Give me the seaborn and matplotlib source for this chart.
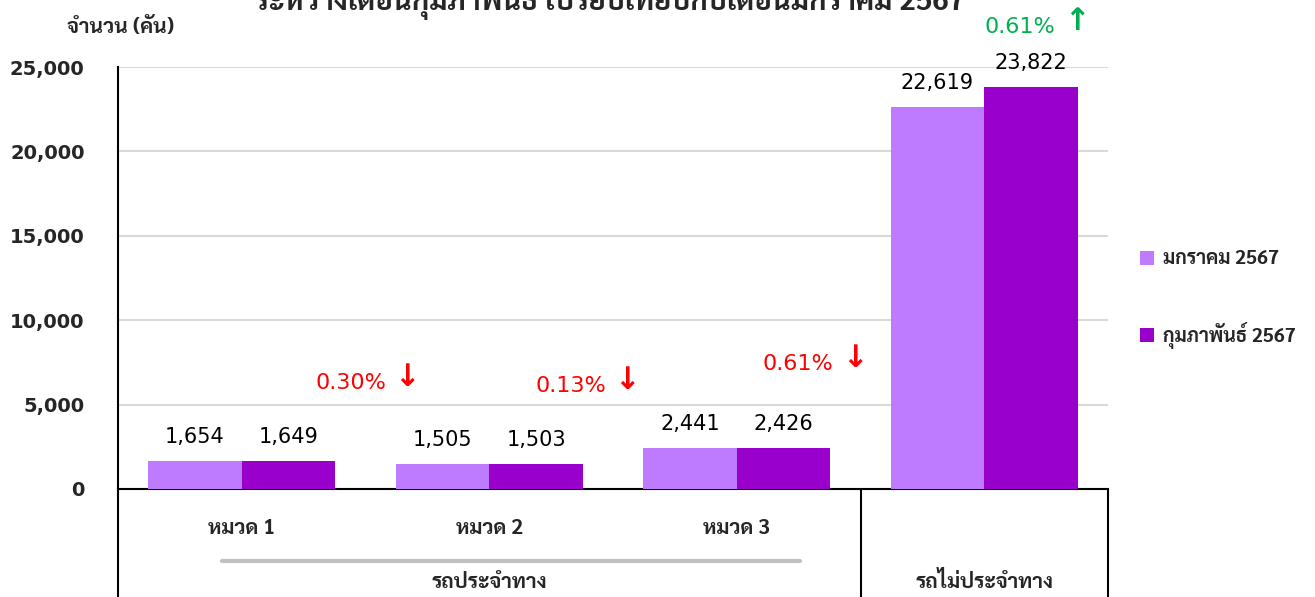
import matplotlib
matplotlib.use('Agg')
import matplotlib.pyplot as plt
import pandas as pd
import seaborn as sns
from matplotlib.patches import Patch

# data
categories = ['หมวด 1', 'หมวด 2', 'หมวด 3', 'ไม่ประจำทาง']
tick_labels = ['หมวด 1', 'หมวด 2', 'หมวด 3', '']
jan = [1654, 1505, 2441, 22619]
feb = [1649, 1503, 2426, 23822]
series = ['มกราคม 2567', 'กุมภาพันธ์ 2567']
colors = ['#BF7BFF', '#9900CC']
pct_labels = ['0.30%', '0.13%', '0.61%', '0.61%']
pct_up = [False, False, False, True]
group_labels = ['รถประจำทาง', 'รถไม่ประจำทาง']
title = 'ระหว่างเดือนกุมภาพันธ์ เปรียบเทียบกับเดือนมกราคม 2567'
ylabel = 'จำนวน (คัน)'

df = pd.DataFrame({
    'cat': categories * 2,
    'value': jan + feb,
    'month': [series[0]] * 4 + [series[1]] * 4,
})

sns.set_style('white')
plt.rcParams['font.family'] = ['DejaVu Sans', 'Sarabun']
thai = ['Sarabun', 'DejaVu Sans']

W, H = 1315, 597
fig = plt.figure(figsize=(W / 100, H / 100), dpi=100)
ax = fig.add_axes([118 / W, 1 - 489 / H, 990 / W, 422 / H])

sns.barplot(data=df, x='cat', y='value', hue='month', palette=colors,
            width=0.756, gap=0, saturation=1, linewidth=0, ax=ax,
            legend=False, zorder=3)

ax.set_ylim(0, 25000)
ax.set_xlim(-0.5, 3.5)
ax.set_yticks(range(0, 25001, 5000))
ax.set_yticklabels([f'{v:,}' for v in range(0, 25001, 5000)],
                   fontsize=14, fontweight='bold')
ax.set_xticks(range(4))
ax.set_xticklabels(tick_labels, fontsize=15, fontweight='bold', family=thai)
ax.tick_params(axis='y', length=0, pad=24)
ax.tick_params(axis='x', length=0, pad=21)
ax.set_xlabel('')
ax.set_ylabel('')
ax.grid(axis='y', color='#d9d9d9', lw=1.5, zorder=0)
for s in ['top', 'right']:
    ax.spines[s].set_visible(False)
for s in ['left', 'bottom']:
    ax.spines[s].set_color('black')
    ax.spines[s].set_linewidth(1.5)

# value labels
for cont in ax.containers:
    ax.bar_label(cont, labels=[f'{v:,.0f}' for v in cont.datavalues],
                 padding=10, fontsize=15, color='black')

# percent change notes
pct_pos = [(0.296, 6280), (1.185, 6100), (2.106, 7405), (3.003, 27370)]
for (x, y), t, up in zip(pct_pos, pct_labels, pct_up):
    c = '#00B050' if up else '#FF0000'
    ax.text(x, y, t, color=c, fontsize=16, va='center', ha='left', clip_on=False)
    ax.text(x + 0.37, y + 300, '↑' if up else '↓', color=c, fontsize=22,
            fontweight='bold', va='center', ha='center', clip_on=False)

# category frame below the axis
tr = ax.get_xaxis_transform()
bot = (489 - H) / 422
for x in [-0.5, 2.5, 3.5]:
    ax.plot([x, x], [0, bot], transform=tr, color='black', lw=1.5, clip_on=False)
ax.plot([-0.08, 2.256], [-0.1706, -0.1706], transform=tr, color='#c0c0c0',
        lw=3, clip_on=False)
ax.text(1.0, -0.2227, group_labels[0], transform=tr, ha='center', va='center',
        fontsize=15, fontweight='bold', family=thai)
ax.text(3.0, -0.2227, group_labels[1], transform=tr, ha='center', va='center',
        fontsize=15, fontweight='bold', family=thai)

# legend
handles = [Patch(facecolor=c, edgecolor='none') for c in colors]
fig.legend(handles, series, loc='upper left', bbox_to_anchor=(1122 / W, 1 - 233 / H),
           frameon=False, handlelength=0.75, handleheight=0.75, handletextpad=0.45,
           labelspacing=2.75, prop={'size': 14, 'weight': 'bold', 'family': thai})

fig.text(121 / W, 1 - 27 / H, ylabel, ha='center', va='center', fontsize=15,
         fontweight='bold', family=thai)
fig.text(610 / W, 1 - 10 / H, title, ha='center', va='baseline', fontsize=21,
         fontweight='bold', family=thai)

fig.savefig('out.png', dpi=100)
